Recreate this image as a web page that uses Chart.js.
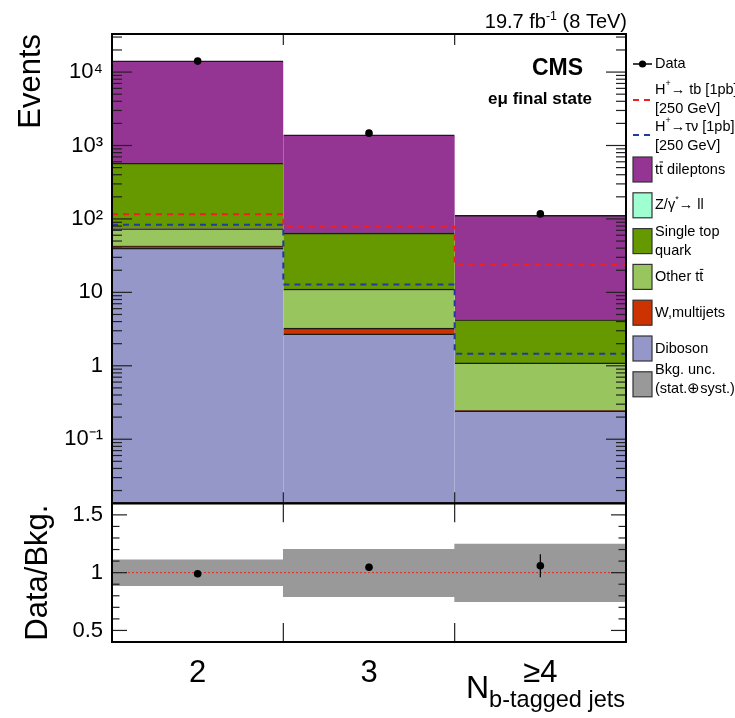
<!DOCTYPE html>
<html><head><meta charset="utf-8">
<script src="https://cdn.jsdelivr.net/npm/chart.js@4.4.1/dist/chart.umd.min.js"></script>
<style>html,body{margin:0;padding:0;background:#fff}canvas{display:block}</style>
</head><body>
<canvas id="c" width="735" height="718"></canvas>
<script>
// ---------- data ----------
const categories = ['2', '3', '≥4'];
const diboson     = [40, 2.72, 0.243];
const wMultijets  = [3, 0.53, 0.002];
const otherTT     = [31, 7.85, 0.85];
const singleTop   = [501, 52.9, 3.15];
const zGammaLL    = [3, 0.5, 0.04];
const ttDileptons = [13680, 1335, 108];
const dataEvents  = [14100, 1472, 117];
const dataErr     = [119, 38, 11];
const hTb         = [116, 78.7, 23.8];
const hTauNu      = [83, 12.8, 1.46];
const ratioData   = [0.99, 1.047, 1.06];
const ratioErr    = [0.01, 0.03, 0.1];
const bkgUncLow   = [0.888, 0.793, 0.75];
const bkgUncHigh  = [1.11, 1.202, 1.248];
const yTicks      = [0.1, 1, 10, 100, 1000, 10000];
const yTickLabels = ['10⁻¹', '1', '10', '10²', '10³', '10⁴'];
const ratioTicks  = [0.5, 1, 1.5];
const ratioTickLabels = ['0.5', '1', '1.5'];
const legendLabels = [
  'Data',
  'H^{+}→ tb [1pb]|[250 GeV]',
  'H^{+}→τν [1pb]|[250 GeV]',
  'tt̄ dileptons',
  'Z/γ^{*}→ ll',
  'Single top|quark',
  'Other tt̄',
  'W,multijets',
  'Diboson',
  'Bkg. unc.|(stat.⊕syst.)'
];
const lumiText = '19.7 fb^{-1} (8 TeV)';
const cmsText = 'CMS';
const stateText = 'eμ final state';
const xTitle = 'N_{b-tagged jets}';
const yTitle = 'Events';
const ratioTitle = 'Data/Bkg.';

// ---------- styling ----------
const FONT = "'Liberation Sans', Arial, Helvetica, sans-serif";
Chart.defaults.font.family = FONT;
Chart.defaults.color = '#000';
const C = {diboson:'#9497c8', w:'#cc3300', other:'#99c55f', single:'#669900', z:'#9fffd0',
           tt:'#943594', band:'#999999', red:'#f02020', blue:'#1f3aa0'};

const edges = [0, 1, 2, 3];
function stepPoints(vals) { return edges.map(e => ({x: e, y: vals[Math.min(e, vals.length - 1)]})); }

function barDS(label, data, color) {
  return {type: 'bar', label, data, backgroundColor: color, borderColor: '#1a1a1a',
    borderWidth: {top: 1.5, left: 0, right: 0, bottom: 0}, barPercentage: 1, categoryPercentage: 1,
    grouped: false, stack: 'bkg', xAxisID: 'x', yAxisID: 'y', order: 3};
}

// ---------- rich text ----------
function segs(s) {
  const out = []; const re = /\^\{([^}]*)\}|_\{([^}]*)\}/g; let last = 0, m;
  while ((m = re.exec(s))) {
    if (m.index > last) out.push({t: s.slice(last, m.index), k: 0});
    out.push({t: m[1] !== undefined ? m[1] : m[2], k: m[1] !== undefined ? 1 : -1});
    last = re.lastIndex;
  }
  if (last < s.length) out.push({t: s.slice(last), k: 0});
  return out;
}
function drawRich(ctx, s, x, y, size, align, weight, subScale) {
  const parts = segs(s);
  const sc = k => k === 1 ? 0.62 : (k === -1 ? (subScale || 0.7) : 1);
  const fontFor = k => `${weight || 'normal'} ${size * sc(k)}px ${FONT}`;
  let w = 0;
  for (const p of parts) { ctx.font = fontFor(p.k); p.w = ctx.measureText(p.t.replace(/\u0304/g, '')).width; w += p.w; }
  let cx = align === 'right' ? x - w : (align === 'center' ? x - w / 2 : x);
  ctx.textAlign = 'left'; ctx.fillStyle = '#000';
  for (const p of parts) {
    ctx.font = fontFor(p.k);
    const fs = size * sc(p.k);
    const dy = p.k === 1 ? -size * 0.42 : (p.k === -1 ? size * 0.28 : 0);
    const pieces = p.t.split(/(.\u0304)/);
    for (const pc of pieces) {
      if (!pc) continue;
      if (pc.length === 2 && pc[1] === '\u0304') {
        const ch = pc[0]; const mt = ctx.measureText(ch); const cw = mt.width;
        ctx.fillText(ch, cx, y + dy);
        const oy = y + dy - mt.actualBoundingBoxAscent - 1.5;
        ctx.save(); ctx.strokeStyle = '#000'; ctx.lineWidth = Math.max(1, fs * 0.07);
        ctx.beginPath(); ctx.moveTo(cx + 0.5, oy); ctx.lineTo(cx + cw, oy); ctx.stroke(); ctx.restore();
        cx += cw;
      } else {
        ctx.fillText(pc, cx, y + dy); cx += ctx.measureText(pc).width;
      }
    }
  }
}

function line(ctx, x1, y1, x2, y2) { ctx.beginPath(); ctx.moveTo(x1, y1); ctx.lineTo(x2, y2); ctx.stroke(); }

const decor = {
  id: 'decor',
  afterDatasetsDraw(chart) {
    const ctx = chart.ctx, x = chart.scales.x, y = chart.scales.y, yr = chart.scales.yr;
    ctx.save(); ctx.strokeStyle = '#000'; ctx.lineWidth = 1.2;
    categories.forEach((c, i) => {
      const px = x.getPixelForValue(i);
      line(ctx, px, y.getPixelForValue(dataEvents[i] - dataErr[i]), px, y.getPixelForValue(dataEvents[i] + dataErr[i]));
      line(ctx, px, yr.getPixelForValue(ratioData[i] - ratioErr[i]), px, yr.getPixelForValue(ratioData[i] + ratioErr[i]));
    });
    ctx.restore();
  },
  afterDraw(chart) {
    const ctx = chart.ctx, y = chart.scales.y, yr = chart.scales.yr, xl = chart.scales.xl;
    const L = chart.chartArea.left, R = chart.chartArea.right;
    ctx.save();
    ctx.strokeStyle = '#222'; ctx.lineWidth = 1.2;
    for (let e = -2; e <= 4; e++) for (let m = 1; m <= 9; m++) {
      const v = m * Math.pow(10, e);
      if (v <= y.min || v >= y.max) continue;
      const py = y.getPixelForValue(v); const len = m === 1 ? 20 : 10;
      line(ctx, L, py, L + len, py); line(ctx, R, py, R - len, py);
    }
    for (let k = 5; k <= 15; k++) {
      const v = k / 10; const py = yr.getPixelForValue(v); const len = (k % 5 === 0) ? 15 : 7.5;
      line(ctx, L, py, L + len, py); line(ctx, R, py, R - len, py);
    }
    [1, 2].forEach(e => {
      const px = xl.getPixelForValue(e);
      line(ctx, px, y.top, px, y.top + 11); line(ctx, px, y.bottom, px, y.bottom - 11);
      line(ctx, px, yr.top, px, yr.top + 19); line(ctx, px, yr.bottom, px, yr.bottom - 19);
    });
    ctx.strokeStyle = '#000'; ctx.lineWidth = 2;
    ctx.strokeRect(L, y.top, R - L, y.bottom - y.top);
    ctx.strokeRect(L, yr.top, R - L, yr.bottom - yr.top);
    ctx.textBaseline = 'alphabetic';
    drawRich(ctx, lumiText, 627, 28, 20, 'right');
    drawRich(ctx, cmsText, 583, 75, 23, 'right', 'bold');
    drawRich(ctx, stateText, 592, 104, 17, 'right', 'bold');
    drawRich(ctx, xTitle, 466, 698, 32, 'left', 'normal', 0.735);
    const x0 = 633, x1 = 652, tx = 655, fs = 14.5;
    ctx.textBaseline = 'middle';
    ctx.strokeStyle = '#000'; ctx.lineWidth = 1.5; line(ctx, x0, 64, x1, 64);
    ctx.fillStyle = '#000'; ctx.beginPath(); ctx.arc((x0 + x1) / 2, 64, 3.6, 0, Math.PI * 2); ctx.fill();
    drawRich(ctx, legendLabels[0], tx, 64, fs, 'left');
    [[1, C.red, 90, 100], [2, C.blue, 127, 135]].forEach(([i, col, ty, dy]) => {
      ctx.save(); ctx.strokeStyle = col; ctx.lineWidth = 2; ctx.setLineDash([6, 5]); line(ctx, x0, dy, x1 + 2, dy); ctx.restore();
      const ls = legendLabels[i].split('|');
      drawRich(ctx, ls[0], tx, ty, fs, 'left'); drawRich(ctx, ls[1], tx, ty + 19, fs, 'left');
    });
    const boxCols = [C.tt, C.z, C.single, C.other, C.w, C.diboson, C.band];
    boxCols.forEach((col, j) => {
      const top = 157 + j * 35.8, h = 25, mid = top + h / 2;
      ctx.fillStyle = col; ctx.fillRect(x0, top, x1 - x0, h);
      ctx.strokeStyle = '#333'; ctx.lineWidth = 1.2; ctx.strokeRect(x0, top, x1 - x0, h);
      const ls = legendLabels[3 + j].split('|');
      if (ls.length === 1) drawRich(ctx, ls[0], tx, mid, fs, 'left');
      else {
        const sh = (j === boxCols.length - 1) ? -5 : 0;
        drawRich(ctx, ls[0], tx, mid - 9.5 + sh, fs, 'left'); drawRich(ctx, ls[1], tx, mid + 9.5 + sh, fs, 'left');
      }
    });
    ctx.restore();
  }
};

const datasets = [
  {type: 'line', label: 'Data', data: dataEvents, showLine: false, pointRadius: 3.8, pointBackgroundColor: '#000',
   pointBorderWidth: 0, stack: 'data', xAxisID: 'x', yAxisID: 'y', order: 0},
  {type: 'line', label: 'H+ -> tb', data: stepPoints(hTb), stepped: true, borderColor: C.red, borderWidth: 2,
   borderDash: [6, 5], pointRadius: 0, fill: false, stack: 'sigTb', xAxisID: 'xl', yAxisID: 'y', order: 1},
  {type: 'line', label: 'H+ -> tau nu', data: stepPoints(hTauNu), stepped: true, borderColor: C.blue, borderWidth: 2,
   borderDash: [6, 5], pointRadius: 0, fill: false, stack: 'sigTauNu', xAxisID: 'xl', yAxisID: 'y', order: 1},
  barDS('Diboson', diboson, C.diboson),
  barDS('W,multijets', wMultijets, C.w),
  barDS('Other tt', otherTT, C.other),
  barDS('Single top quark', singleTop, C.single),
  barDS('Z/gamma -> ll', zGammaLL, C.z),
  barDS('tt dileptons', ttDileptons, C.tt),
  {type: 'bar', label: 'Bkg. unc.', data: categories.map((c, i) => [bkgUncLow[i], bkgUncHigh[i]]),
   backgroundColor: C.band, borderWidth: 0, barPercentage: 1, categoryPercentage: 1, grouped: false,
   xAxisID: 'x', yAxisID: 'yr', order: 4},
  {type: 'line', label: 'ratio 1', data: [{x: 0, y: 1}, {x: 3, y: 1}], borderColor: C.red, borderWidth: 1,
   borderDash: [2, 2], pointRadius: 0, fill: false, xAxisID: 'xl', yAxisID: 'yr', order: 1},
  {type: 'line', label: 'Data/Bkg.', data: ratioData, showLine: false, pointRadius: 3.8, pointBackgroundColor: '#000',
   pointBorderWidth: 0, xAxisID: 'x', yAxisID: 'yr', order: 0}
];

new Chart(document.getElementById('c'), {
  type: 'bar',
  data: {labels: categories, datasets},
  options: {
    responsive: false, animation: false, devicePixelRatio: 1,
    layout: {padding: {top: 34, right: 109, left: 0, bottom: 0}},
    plugins: {legend: {display: false}, tooltip: {enabled: false}},
    scales: {
      x: {type: 'category', position: 'bottom', grid: {display: false, drawTicks: false}, border: {display: false},
          ticks: {font: {size: 31}, color: '#000', padding: 13, maxRotation: 0, autoSkip: false},
          afterFit: s => { s.height = 76; }},
      xl: {type: 'linear', min: 0, max: 3, offset: false, display: false, grid: {offset: false}},
      y: {type: 'logarithmic', position: 'left', stack: 'v', stackWeight: 469, weight: 2, stacked: true,
          min: 0.0134, max: 33000, grid: {display: false, drawTicks: false}, border: {display: false},
          afterBuildTicks: s => { s.ticks = yTicks.map(v => ({value: v})); },
          ticks: {callback: (v, i) => yTickLabels[i], font: {size: 22}, color: '#000', padding: 9, autoSkip: false},
          title: {display: true, text: yTitle, align: 'end', font: {size: 31}, color: '#000', padding: {top: 13}},
          afterFit: s => { s.width = 112; }},
      yr: {type: 'linear', position: 'left', stack: 'v', stackWeight: 138.6, weight: 1,
          min: 0.4, max: 1.6, grid: {display: false, drawTicks: false}, border: {display: false},
          afterBuildTicks: s => { s.ticks = ratioTicks.map(v => ({value: v})); },
          ticks: {callback: (v, i) => ratioTickLabels[i], font: {size: 22}, color: '#000', padding: 9, autoSkip: false},
          title: {display: true, text: ratioTitle, align: 'center', font: {size: 31}, color: '#000', padding: {top: 20}},
          afterFit: s => { s.width = 112; }}
    }
  },
  plugins: [decor]
});
</script>
</body></html>
